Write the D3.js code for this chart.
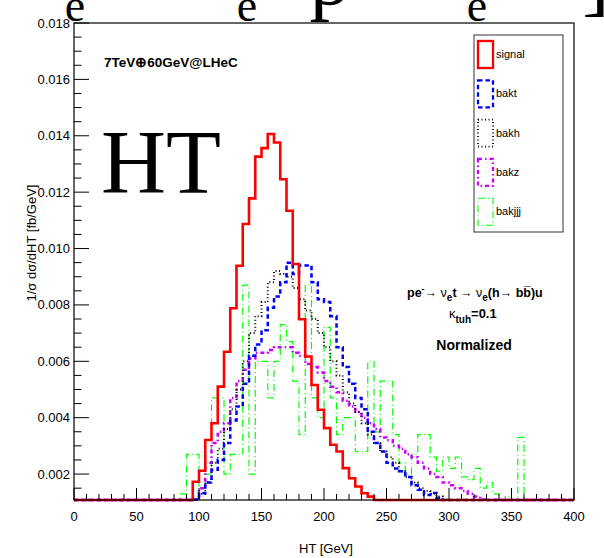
<!DOCTYPE html>
<html>
<head>
<meta charset="utf-8">
<script src="https://cdn.jsdelivr.net/npm/d3@7"></script>
<style>
  body { margin: 0; background: #fff; }
  svg { font-family: "Liberation Sans", Arial, sans-serif; }
</style>
</head>
<body>
<svg width="604" height="558"></svg>
<script>
// 5 GeV bins from 0 to 400 GeV (80 bins)
const binWidth = 5;
const xTicks = [0, 50, 100, 150, 200, 250, 300, 350, 400];
const yTicks = [0.002, 0.004, 0.006, 0.008, 0.010, 0.012, 0.014, 0.016, 0.018];

const signal = [
  0,0,0,0,0,0,0,0,0,0, 0,0,0,0,0,0,0,0,0,0.00173,
  0.00212,0.00321,0.0038,0.0051,0.00634,0.00788,0.00939,0.01087,0.01178,0.01326,
  0.01356,0.01406,0.01376,0.01246,0.01134,0.00945,0.00749,0.00617,0.00516,0.00428,
  0.00363,0.00304,0.0028,0.00221,0.00185,0.00156,0.00132,0.0012,0,0,
  0,0,0,0,0,0,0,0,0,0, 0,0,0,0,0,0,0,0,0,0, 0,0,0,0,0,0,0,0,0,0
];
const bakt = [
  0,0,0,0,0,0,0,0,0,0, 0,0,0,0,0,0,0,0,0,0.0011,
  0.00132,0.0017,0.00215,0.0025,0.0031,0.0039,0.0044,0.0052,0.0062,0.0066,
  0.0071,0.0079,0.0083,0.0088,0.0095,0.0091,0.0094,0.0094,0.0088,0.0082,
  0.0081,0.0076,0.0065,0.0058,0.0052,0.0047,0.0043,0.0035,0.0031,0.0028,
  0.0024,0.0022,0.0021,0.0019,0.0016,0.00144,0.00126,0.00133,0.00116,0,
  0,0,0,0,0,0,0,0,0,0, 0,0,0,0,0,0,0,0,0,0
];
const bakh = [
  0,0,0,0,0,0,0,0,0,0, 0,0,0,0,0,0,0,0,0,0.0011,
  0.0013,0.0017,0.0024,0.0029,0.0036,0.0043,0.0050,0.0060,0.0070,0.0076,
  0.0081,0.0088,0.0092,0.0091,0.0090,0.0086,0.0082,0.0078,0.0075,0.0070,
  0.0065,0.0060,0.0055,0.0049,0.0045,0.0042,0.0038,0.0034,0.0031,0.0028,
  0.0026,0.0024,0.0021,0.0019,0.0017,0.0015,0.0014,0.0013,0.0012,0.0011,
  0,0,0,0,0,0,0,0,0,0, 0,0,0,0,0,0,0,0,0,0
];
const bakz = [
  0,0,0,0,0,0,0,0,0,0, 0,0,0,0,0,0,0,0,0,0.0011,
  0.0015,0.0024,0.0031,0.0035,0.0038,0.0047,0.0053,0.0057,0.0061,0.0063,
  0.0063,0.0064,0.0065,0.0065,0.0065,0.0063,0.0062,0.0059,0.0058,0.0056,
  0.0053,0.0051,0.0049,0.0046,0.0044,0.0042,0.0040,0.0038,0.0036,0.0033,
  0.0032,0.0030,0.0029,0.0027,0.0026,0.0024,0.0022,0.0020,0.0019,0.0017,
  0.0016,0.0015,0.0014,0.0013,0.0012,0.0011,0,0,0,0,
  0,0,0,0,0,0,0,0,0,0
];
const bakjjj = [
  0,0,0,0,0,0,0,0,0,0, 0,0,0,0,0,0,0,0.0013,0.0027,0.0027,
  0.0015,0.0020,0.0047,0.0047,0.0020,0.0027,0.0027,0.0087,0.0020,0.0060,
  0.0060,0.0047,0.0060,0.0073,0.0067,0.0053,0.0034,0.0087,0.0047,0.0040,
  0.0072,0.0047,0.0034,0.0040,0.0040,0.0028,0.0028,0.0060,0.0035,0.0053,
  0.0053,0.0034,0.0024,0.0020,0.0027,0.0034,0.0034,0.0026,0.0021,0.0026,
  0.0022,0.0026,0.0019,0.0018,0.0022,0.0015,0.0017,0.0013,0,0.0012,
  0.0011,0.0033,0,0,0,0,0,0,0,0
];

const series = [
  { name: 'bakjjj', values: bakjjj, color: '#00ff00', width: 1.2, dash: '7,3,1,3' },
  { name: 'bakz',   values: bakz,   color: '#cc00ff', width: 2.5, dash: '4,3,1.5,3' },
  { name: 'bakh',   values: bakh,   color: '#000000', width: 2,   dash: '1,2.5' },
  { name: 'bakt',   values: bakt,   color: '#0000ff', width: 2.5, dash: '4.5,3' },
  { name: 'signal', values: signal, color: '#ff0000', width: 2.6, dash: null }
];
const legendOrder = ['signal', 'bakt', 'bakh', 'bakz', 'bakjjj'];

const svg = d3.select('svg');
const yMin = 0.00108;
const x = d3.scaleLinear().domain([0, 400]).range([74, 574]);
const y = d3.scaleLinear().domain([yMin, 0.018]).range([500, 23]);

// histograms
const line = d3.line();
const histPath = vals => {
  const pts = [[x(0), y(yMin)]];
  vals.forEach((v, i) => {
    const yv = y(Math.max(v, yMin));
    pts.push([x(i * binWidth), yv], [x((i + 1) * binWidth), yv]);
  });
  pts.push([x(400), y(yMin)]);
  return line(pts);
};

svg.append('g')
  .selectAll('path').data(series)
  .enter().append('path')
    .attr('d', d => histPath(d.values))
    .attr('fill', 'none')
    .attr('stroke', d => d.color)
    .attr('stroke-width', d => d.width)
    .attr('stroke-dasharray', d => d.dash)
    .attr('stroke-linejoin', 'miter');

// frame
svg.append('rect')
  .attr('x', 74).attr('y', 23).attr('width', 500).attr('height', 477)
  .attr('fill', 'none').attr('stroke', '#000').attr('stroke-width', 1.2);

// x axis ticks
const xMinor = d3.range(0, 401, 10);
svg.append('g').selectAll('line').data(xMinor)
  .enter().append('line')
    .attr('x1', d => x(d)).attr('x2', d => x(d))
    .attr('y1', 500).attr('y2', d => d % 50 === 0 ? 488 : 494)
    .attr('stroke', '#000').attr('stroke-width', 1);
svg.append('g').selectAll('text').data(xTicks)
  .enter().append('text')
    .attr('x', d => x(d)).attr('y', 521)
    .attr('text-anchor', 'middle')
    .attr('font-size', 13)
    .text(d => d);

// y axis ticks
const yMinor = d3.range(0.0015, 0.01801, 0.0005);
svg.append('g').selectAll('line').data(yMinor)
  .enter().append('line')
    .attr('x1', 74).attr('x2', (d, i) => i % 4 === 1 ? 89 : 81.5)
    .attr('y1', d => y(d)).attr('y2', d => y(d))
    .attr('stroke', '#000').attr('stroke-width', 1);
svg.append('g').selectAll('text').data(yTicks)
  .enter().append('text')
    .attr('x', 70).attr('y', d => y(d) + 4.5)
    .attr('text-anchor', 'end')
    .attr('font-size', 13)
    .text(d => d3.format('.3f')(d));

// axis titles
svg.append('text')
  .attr('x', 326).attr('y', 553)
  .attr('text-anchor', 'middle').attr('font-size', 13)
  .text('HT [GeV]');
svg.append('text')
  .attr('transform', 'translate(36,243) rotate(-90)')
  .attr('text-anchor', 'middle').attr('font-size', 13)
  .text('1/σ dσ/dHT [fb/GeV]');

// legend
const lg = svg.append('g');
lg.append('rect')
  .attr('x', 474).attr('y', 35).attr('width', 89).attr('height', 197)
  .attr('fill', '#fff').attr('stroke', '#333').attr('stroke-width', 1);
const byName = Object.fromEntries(series.map(s => [s.name, s]));
legendOrder.forEach((name, i) => {
  const s = byName[name];
  const cy = 54 + i * 39.3;
  lg.append('rect')
    .attr('x', 478).attr('y', cy - 13).attr('width', 15).attr('height', 27)
    .attr('fill', 'none').attr('stroke', s.color)
    .attr('stroke-width', s.width * 0.9)
    .attr('stroke-dasharray', s.dash);
  lg.append('text')
    .attr('x', 496).attr('y', cy + 4)
    .attr('font-size', 11)
    .text(name);
});

// annotations
svg.append('text')
  .attr('x', 104).attr('y', 67)
  .attr('font-size', 13.5).attr('font-weight', 'bold')
  .text('7TeV⊕60GeV@LHeC');

const proc = svg.append('text')
  .attr('x', 407).attr('y', 297)
  .attr('font-size', 12.5).attr('font-weight', 'bold');
proc.append('tspan').text('pe');
proc.append('tspan').attr('dy', -5).attr('font-size', 9).text('-');
proc.append('tspan').attr('dy', 5).attr('font-weight', 'normal').text('→ ν');
proc.append('tspan').attr('dy', 4).attr('font-size', 10).text('e');
proc.append('tspan').attr('dy', -4).text('t ');
proc.append('tspan').attr('font-weight', 'normal').text('→ ν');
proc.append('tspan').attr('dy', 4).attr('font-size', 10).text('e');
proc.append('tspan').attr('dy', -4).text('(h');
proc.append('tspan').attr('font-weight', 'normal').text('→ ');
proc.append('tspan').text('bb\u0305)u');

const kap = svg.append('text')
  .attr('x', 449).attr('y', 318)
  .attr('font-size', 13).attr('font-weight', 'bold');
kap.append('tspan').attr('font-weight', 'normal').text('κ');
kap.append('tspan').attr('dy', 5).attr('font-size', 10).text('tuh');
kap.append('tspan').attr('dy', -5).text('=0.1');

svg.append('text')
  .attr('x', 474).attr('y', 350)
  .attr('text-anchor', 'middle')
  .attr('font-size', 14).attr('font-weight', 'bold')
  .text('Normalized');

// stray large serif glyphs overlapping the picture
const serif = svg.append('g')
  .attr('font-family', '"Liberation Serif", "DejaVu Serif", serif')
  .attr('fill', '#000');
[[75, 21, 'e', 46], [247, 21, 'e', 46], [477, 21, 'e', 46]].forEach(([gx, gy, t, fs]) => {
  serif.append('text').attr('x', gx).attr('y', gy)
    .attr('text-anchor', 'middle').attr('font-size', fs).text(t);
});
serif.append('text').attr('x', 330).attr('y', 4)
  .attr('text-anchor', 'middle').attr('font-size', 82).text('p');
serif.append('text').attr('x', 596).attr('y', 6)
  .attr('text-anchor', 'middle').attr('font-size', 82).text(']');
serif.append('text').attr('x', 101).attr('y', 193)
  .attr('font-size', 90).text('HT');
</script>
</body>
</html>
